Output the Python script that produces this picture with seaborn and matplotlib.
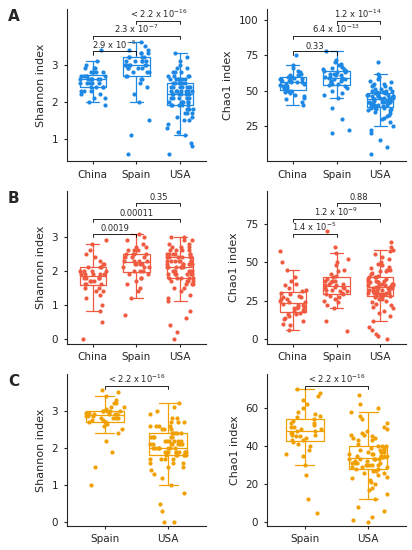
import numpy as np
import pandas as pd
import matplotlib
matplotlib.use("Agg")
import matplotlib.pyplot as plt
import seaborn as sns

# valori (stime)
a_sh_china = [2.6,2.5,2.7,2.4,2.8,2.3,2.9,2.6,2.5,2.2,3.0,2.7,2.1,2.6,2.4,2.8,1.9,2.5,2.7,3.1,2.6,2.3,2.4,2.9,2.0,2.6,2.7,2.5,3.4,2.2,2.8,2.6,2.4,2.5,2.7,2.3,2.9,2.6,2.1,2.8]
a_sh_spain = [3.0,3.1,2.9,3.2,2.8,3.3,3.0,2.7,3.4,3.1,2.9,3.5,2.6,3.0,3.2,2.8,3.6,2.5,3.1,2.9,3.0,2.2,3.3,1.1,0.6,3.1,2.8,3.2,2.4,3.0,3.4,2.7,3.1,2.0,2.9,3.2,3.0,2.6,3.3,1.5]
a_sh_usa = [2.3,2.1,2.5,1.9,2.6,2.2,1.8,2.4,2.7,2.0,2.3,1.6,2.8,2.2,1.7,2.5,2.9,2.1,1.4,2.4,2.6,2.0,3.0,1.9,2.3,1.2,2.5,2.2,1.8,2.7,3.1,2.1,0.9,2.4,2.6,1.5,2.3,2.0,2.8,1.7,2.2,2.5,1.9,3.2,2.4,0.6,2.1,2.6,1.8,2.3,2.7,1.3,2.0,2.5,2.2,1.6,2.9,2.4,1.9,2.1,1.1,2.6,2.3,2.0,2.8,1.7,2.4,2.2,3.3,1.8,2.5,2.1,0.8,2.3,2.6,1.9,2.0,2.7,1.5,2.4]
a_ch_china = [56,52,60,48,58,62,45,55,57,50,64,53,59,47,61,54,66,49,57,42,58,63,51,56,75,44,60,55,52,68,58,46,61,53,57,40,59,62,50,56]
a_ch_spain = [58,62,55,65,60,52,68,57,63,48,70,59,54,66,61,45,72,58,50,64,56,38,67,60,53,78,62,30,57,65,20,59,63,55,69,47,61,58,22,64]
a_ch_usa = [45,42,48,38,50,44,35,47,52,40,46,30,55,43,37,49,58,41,25,46,51,39,60,44,33,47,15,43,48,36,53,45,20,42,49,34,46,40,56,38,44,50,41,62,47,10,43,48,37,45,54,28,41,49,44,32,57,46,39,42,22,50,45,40,55,36,47,43,70,38,48,42,5,46,51,39,40,53,31,45]

b_sh_china = [1.9,1.7,2.0,1.5,2.2,1.8,1.4,2.1,2.5,1.6,1.9,1.0,2.8,1.8,1.3,2.0,2.3,1.7,0.5,1.9,2.1,1.6,2.6,1.8,1.2,2.0,0.0,1.9,1.5,2.2,2.9,1.7,0.8,2.0,1.8,1.4,2.4,1.9,1.6,2.1]
b_sh_spain = [2.3,2.1,2.5,2.0,2.6,2.2,1.8,2.4,2.9,1.9,2.3,1.5,2.7,2.2,1.7,2.5,3.1,2.1,0.7,2.4,2.6,1.6,2.8,2.0,2.3,1.2,2.5,2.2,1.9,3.0,2.4,1.4,2.1,2.6,2.0,2.3,2.7,1.8,2.2,2.5]
b_sh_usa = [2.2,2.0,2.4,1.8,2.5,2.1,1.7,2.3,2.6,1.9,2.2,1.5,2.7,2.1,1.6,2.4,2.8,2.0,1.2,2.3,2.5,1.9,2.9,1.8,2.2,0.8,2.4,2.1,1.7,2.6,3.0,2.0,0.4,2.3,2.5,1.4,2.2,1.9,2.7,1.6,2.1,2.4,1.8,2.9,2.3,0.0,2.0,2.5,1.7,2.2,2.6,1.1,1.9,2.4,2.1,1.5,2.8,2.3,1.8,2.0,0.6,2.5,2.2,1.9,2.7,1.6,2.3,2.1,3.0,1.7,2.4,2.0,0.2,2.2,2.5,1.8,1.9,2.6,1.3,2.3]
b_ch_china = [24,20,28,16,31,22,14,26,35,18,25,10,40,21,13,29,45,19,6,27,33,17,50,23,12,30,57,22,15,36,26,9,20,32,24,16,38,21,18,27]
b_ch_spain = [35,32,38,28,42,34,26,37,48,30,36,20,52,33,25,40,56,31,12,38,44,29,60,34,22,39,70,33,27,45,36,5,31,41,35,24,50,32,29,38]
b_ch_usa = [35,32,38,28,42,34,26,37,45,30,36,22,50,33,25,40,55,31,15,38,44,29,58,34,20,39,8,33,27,46,60,31,3,41,35,18,37,30,52,24,34,40,28,57,36,0,32,43,26,35,48,12,30,39,33,21,53,37,29,31,6,44,35,30,49,23,38,33,63,27,40,32,2,36,45,29,30,47,17,35]

c_sh_spain = [2.9,2.8,3.0,2.7,3.1,2.85,2.6,3.0,3.3,2.75,2.9,2.4,3.5,2.8,2.2,3.0,3.55,2.9,1.0,2.95,3.2,2.7,3.4,2.8,2.5,1.5,3.05,2.85,2.65,3.1,2.9,1.9,2.8,3.0,2.75,2.95,3.2,2.7,2.85,3.0]
c_sh_usa = [2.1,1.9,2.3,1.8,2.4,2.0,1.7,2.2,2.6,1.9,2.1,1.5,2.7,2.0,1.6,2.3,2.8,1.9,1.2,2.2,2.5,1.8,2.9,1.8,2.1,0.8,2.4,2.0,1.7,2.6,3.2,1.9,0.0,2.3,2.4,1.4,2.1,1.9,2.7,1.6,2.0,2.4,1.8,3.0,2.2,0.0,1.9,2.5,1.7,2.1,2.6,1.0,1.9,2.3,2.0,1.5,2.8,2.2,1.8,2.0,0.5,2.4,2.1,1.9,2.7,1.6,2.2,2.0,3.1,1.7,2.3,2.0,0.3,2.1,2.5,1.8,1.9,2.6,1.3,2.2]
c_ch_spain = [49,46,52,43,57,48,41,51,62,45,50,35,66,47,38,54,70,44,12,53,60,42,68,48,30,55,5,47,40,58,50,25,46,56,49,36,64,45,43,52]
c_ch_usa = [35,31,38,28,43,33,26,37,46,30,36,22,50,33,25,40,56,31,15,38,44,29,60,34,20,39,8,33,27,46,62,31,3,41,35,18,37,30,52,24,34,40,28,58,36,0,32,43,26,35,48,12,30,39,33,21,54,37,29,31,6,44,35,30,49,23,38,33,67,27,40,32,1,36,45,29,30,47,17,35]

P = "< 2.2 x 10$^{-16}$"
pannelli = [
    ("A", "Shannon index", {"China": a_sh_china, "Spain": a_sh_spain, "USA": a_sh_usa}, "#1E88E5",
     [(0, 1, "2.9 x 10$^{-5}$"), (0, 2, "2.3 x 10$^{-7}$"), (1, 2, P)], (0.4, 4.5), [1, 2, 3]),
    ("", "Chao1 index", {"China": a_ch_china, "Spain": a_ch_spain, "USA": a_ch_usa}, "#1E88E5",
     [(0, 1, "0.33"), (0, 2, "6.4 x 10$^{-13}$"), (1, 2, "1.2 x 10$^{-14}$")], (0, 108), [25, 50, 75, 100]),
    ("B", "Shannon index", {"China": b_sh_china, "Spain": b_sh_spain, "USA": b_sh_usa}, "#F05A40",
     [(0, 1, "0.0019"), (0, 2, "0.00011"), (1, 2, "0.35")], (-0.15, 4.35), [0, 1, 2, 3]),
    ("", "Chao1 index", {"China": b_ch_china, "Spain": b_ch_spain, "USA": b_ch_usa}, "#F05A40",
     [(0, 1, "1.4 x 10$^{-5}$"), (0, 2, "1.2 x 10$^{-9}$"), (1, 2, "0.88")], (-3, 96), [0, 25, 50, 75]),
    ("C", "Shannon index", {"Spain": c_sh_spain, "USA": c_sh_usa}, "#F0A000",
     [(0, 1, P)], (-0.1, 4.0), [0, 1, 2, 3]),
    ("", "Chao1 index", {"Spain": c_ch_spain, "USA": c_ch_usa}, "#F0A000",
     [(0, 1, P)], (-2, 78), [0, 20, 40, 60]),
]

sns.set_style("white")
fig, axes = plt.subplots(3, 2, figsize=(4.12, 5.5), dpi=100)

def bracket(ax, x1, x2, y, h, testo):
    ax.plot([x1, x1, x2, x2], [y - h, y, y, y - h], color="black", lw=0.6)
    ax.text((x1 + x2) / 2, y + h * 0.3, testo, ha="center", va="bottom", fontsize=6)

for ax, (lettera, ylab, gruppi, col, test, ylim, ticks) in zip(axes.flat, pannelli):
    df = pd.DataFrame([(k, v) for k, vals in gruppi.items() for v in vals], columns=["paese", "val"])
    sns.stripplot(data=df, x="paese", y="val", color=col, size=3.0, jitter=0.3, ax=ax, zorder=1)
    sns.boxplot(data=df, x="paese", y="val", color=col, fill=False, showfliers=False,
                width=0.6, linewidth=0.9, ax=ax)
    ax.set_ylim(*ylim)
    ax.set_yticks(ticks)
    ax.set_xlim(-0.6, len(gruppi) - 0.4)
    ax.set_xlabel("")
    ax.set_ylabel(ylab, fontsize=8)
    ax.tick_params(labelsize=7.5, length=2.5, left=True, bottom=True)
    for s in ["top", "right"]:
        ax.spines[s].set_visible(False)
    span = ylim[1] - ylim[0]
    n = len(test)
    # parentesi dall'alto verso il basso
    for i, (x1, x2, t) in enumerate(test):
        y = ylim[1] - span * (0.08 + 0.1 * (n - 1 - i))
        bracket(ax, x1, x2, y, span * 0.02, t)
    if lettera:
        ax.text(-0.42, 1.0, lettera, transform=ax.transAxes, fontsize=11, fontweight="bold", va="top")

plt.tight_layout(pad=0.4, w_pad=1.2, h_pad=0.6)
plt.savefig("out.png", dpi=100)
